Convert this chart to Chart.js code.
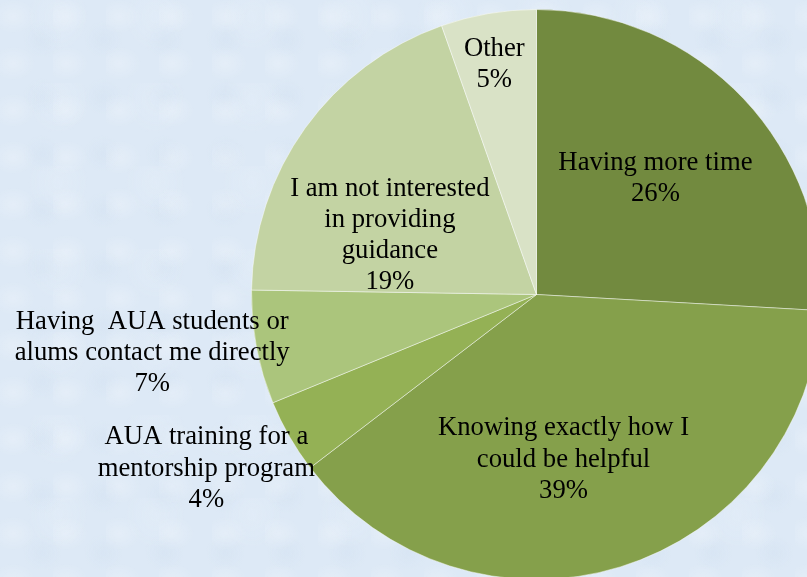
<!DOCTYPE html>
<html>
<head>
<meta charset="utf-8">
<script src="https://cdn.jsdelivr.net/npm/chart.js@4.4.1/dist/chart.umd.min.js"></script>
<style>
  html, body { margin: 0; padding: 0; overflow: hidden; width: 807px; height: 577px; }
  body {
    background-color: #dde9f6;
    background-image:
      radial-gradient(ellipse at 25% 35%, rgba(255,255,255,0.22) 0, rgba(255,255,255,0) 22px),
      radial-gradient(ellipse at 70% 70%, rgba(200,217,236,0.22) 0, rgba(200,217,236,0) 20px),
      radial-gradient(ellipse at 60% 20%, rgba(240,246,252,0.2) 0, rgba(240,246,252,0) 30px);
    background-size: 53px 47px, 61px 57px, 97px 83px;
  }
  #wrap { position: absolute; left: 0; top: 0; width: 822px; height: 580px; }
</style>
</head>
<body>
<div id="wrap"><canvas id="pie" width="822" height="580"></canvas></div>
<script>
// survey answers, clockwise from 12 o'clock
var categories = [
  ["Having more time"],
  ["Knowing exactly how I", "could be helpful"],
  ["AUA training for a", "mentorship program"],
  ["Having  AUA students or", "alums contact me directly"],
  ["I am not interested", "in providing", "guidance"],
  ["Other"]
];
var shares = [25.9, 38.7, 4.2, 6.45, 19.35, 5.4];
var percents = [26, 39, 4, 7, 19, 5];
var sliceColors = ["#728a3f", "#85a04b", "#94b155", "#abc57c", "#c3d3a3", "#d9e2c6"];

// where each label sits: fraction of radius and angle nudge (deg) from slice middle
var labelRadius = [0.588, 0.581, 1.307, 1.363, 0.557, 0.827];
var labelShift = [-1.4, 7.7, 2.3, 2.3, -13.2, -0.6];

var fontSize = 26.7;
var lineGap = 31.3;

var pieLabels = {
  id: 'pieLabels',
  afterDatasetsDraw: function(chart) {
    var ctx = chart.ctx;
    var arcs = chart.getDatasetMeta(0).data;
    ctx.save();
    ctx.font = fontSize + 'px "Liberation Serif", "Times New Roman", serif';
    ctx.fillStyle = '#000';
    ctx.textAlign = 'center';
    ctx.textBaseline = 'alphabetic';
    for (var i = 0; i < arcs.length; i++) {
      var a = arcs[i];
      var mid = (a.startAngle + a.endAngle) / 2 + labelShift[i] * Math.PI / 180;
      var d = a.outerRadius * labelRadius[i];
      var cx = a.x + Math.cos(mid) * d;
      var cy = a.y + Math.sin(mid) * d;
      var lines = categories[i].concat([percents[i] + '%']);
      for (var j = 0; j < lines.length; j++) {
        var y = cy + (j - (lines.length - 1) / 2) * lineGap + fontSize * 0.331;
        ctx.fillText(lines[j], cx, y);
      }
    }
    ctx.restore();
  }
};

new Chart(document.getElementById('pie'), {
  type: 'pie',
  data: {
    labels: categories.map(function(c) { return c.join(' '); }),
    datasets: [{
      data: shares,
      backgroundColor: sliceColors,
      borderColor: 'rgba(255,255,255,0.45)',
      borderWidth: 1
    }]
  },
  options: {
    responsive: false,
    animation: false,
    devicePixelRatio: 1,
    radius: 285,
    layout: { padding: { left: 251, top: 9, right: 0, bottom: 0 } },
    plugins: {
      legend: { display: false },
      tooltip: { enabled: false }
    }
  },
  plugins: [pieLabels]
});
</script>
</body>
</html>
